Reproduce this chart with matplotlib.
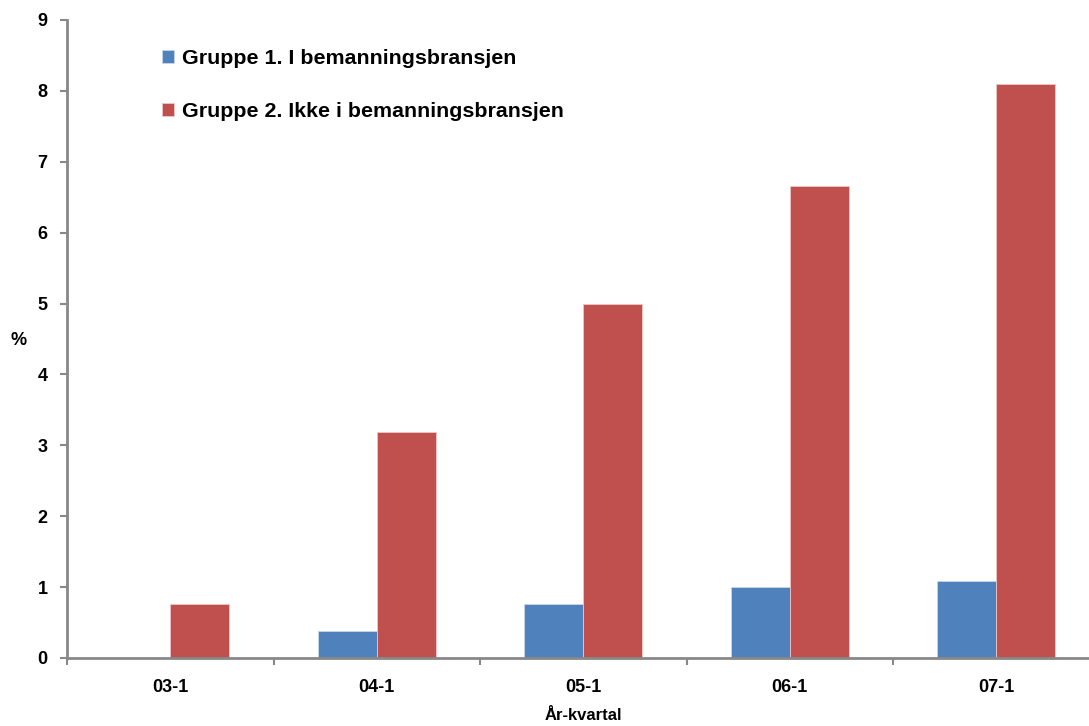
import numpy as np
import matplotlib
matplotlib.use('Agg')
import matplotlib.pyplot as plt

plt.rcParams['font.family'] = ['Liberation Sans', 'DejaVu Sans']
plt.rcParams['font.weight'] = 'bold'

categories = ['03-1', '04-1', '05-1', '06-1', '07-1']
gruppe1 = [0.0, 0.385, 0.76, 1.0, 1.08]
gruppe2 = [0.76, 3.19, 5.0, 6.66, 8.10]
label1 = 'Gruppe 1. I bemanningsbransjen'
label2 = 'Gruppe 2. Ikke i bemanningsbransjen'

blue = '#4f81bd'
red = '#c0504d'
grey = '#888888'

fig = plt.figure(figsize=(10.89, 7.26), dpi=100)
ax = fig.add_axes([67 / 1089, 1 - 658 / 726, (1099.5 - 67) / 1089, (658 - 20) / 726])

x = np.arange(len(categories))
w = 0.286
ax.bar(x - w / 2, gruppe1, w, color=blue, edgecolor='#c8d6ea', linewidth=0.6, label=label1)
ax.bar(x + w / 2, gruppe2, w, color=red, edgecolor='#ecc8c7', linewidth=0.6, label=label2)

ax.set_xlim(-0.5, len(categories) - 0.5)
ax.set_ylim(0, 9)
ax.set_yticks(range(0, 10))
ax.set_xticks(x)
ax.set_xticklabels(categories, fontsize=13, fontweight='bold')
ax.set_xticks(np.arange(-0.5, len(categories), 1), minor=True)
ax.tick_params(axis='x', which='major', length=0, pad=15)
ax.tick_params(axis='x', which='minor', length=5, width=1.5, color=grey, direction='out')
ax.tick_params(axis='y', length=5, width=1.5, color=grey, labelsize=13, pad=9)
for t in ax.get_yticklabels():
    t.set_fontweight('bold')

for s in ['top', 'right']:
    ax.spines[s].set_visible(False)
for s in ['left', 'bottom']:
    ax.spines[s].set_color(grey)
    ax.spines[s].set_linewidth(2)

ax.set_ylabel('%', fontsize=13, fontweight='bold', rotation=0, va='center', ha='center')
ax.yaxis.set_label_coords((19 - 67) / 1032.5, (658 - 340) / 638)
ax.set_xlabel('År-kvartal', fontsize=12, fontweight='bold')
ax.xaxis.set_label_coords((583 - 67) / 1032.5, (658 - 716) / 638)
ax.xaxis.label.set_va('center')

leg = fig.legend(loc='upper left', bbox_to_anchor=(143 / 1089, 1 - 30 / 726),
                 frameon=False, fontsize=15.4, handlelength=0.55, handleheight=0.55,
                 handletextpad=0.35, labelspacing=1.6)
for t in leg.get_texts():
    t.set_fontweight('bold')

fig.savefig('out.png', dpi=100)
